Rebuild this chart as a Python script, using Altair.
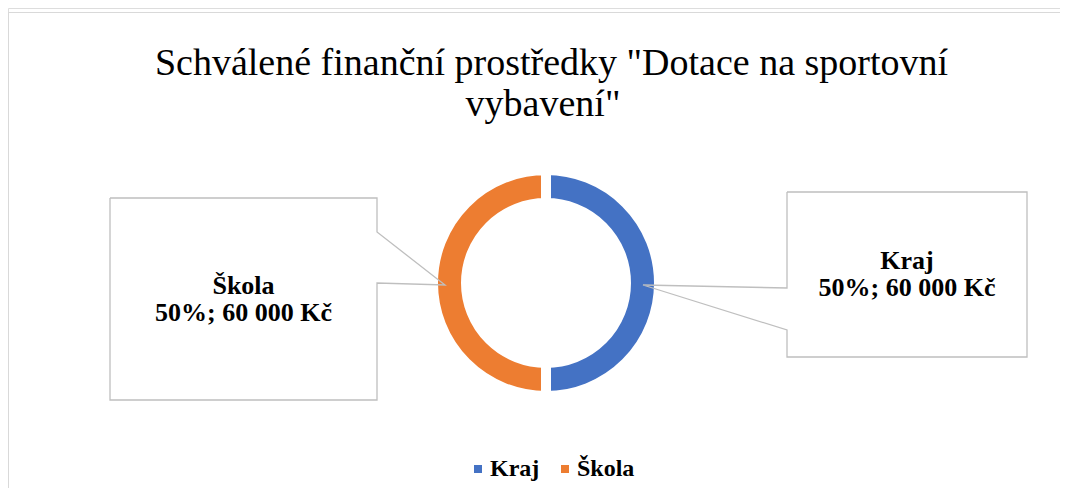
import altair as alt
import pandas as pd

# ---- data ----
categories = ["Kraj", "Škola"]
amounts = [60000, 60000]
shares = [50, 50]
colors = ["#4472C4", "#ED7D31"]

title_lines = ['Schválené finanční prostředky "Dotace na sportovní', 'vybavení"']

# ---- layout (page pixel coordinates) ----
W, H = 1052, 480
OFF = 8
FONT = "Liberation Serif"

def fmt_amount(v):
    return f"{v:,}".replace(",", " ") + " Kč"

df = pd.DataFrame({
    "category": categories,
    "amount": amounts,
    "idx": list(range(len(categories))),
})

xs = alt.Scale(domain=[OFF, OFF + W], range=[0, W], zero=False, nice=False)
ys = alt.Scale(domain=[OFF, OFF + H], range=[0, H], zero=False, nice=False)

CX, CY = 546, 283

donut = alt.Chart(df).mark_arc(
    radius=113, radius2=80, stroke="white", strokeWidth=10
).encode(
    theta=alt.Theta("amount:Q", stack=True),
    order=alt.Order("idx:Q"),
    color=alt.Color(
        "category:N",
        sort=categories,
        scale=alt.Scale(domain=categories, range=colors),
        legend=alt.Legend(
            title=None, orient="none", direction="horizontal",
            legendX=458, legendY=449,
            symbolType="square", symbolSize=64, symbolStrokeWidth=0,
            labelFont=FONT, labelFontSize=24, labelFontWeight="bold",
            labelColor="#000000", columnPadding=13, labelOffset=0,
        ),
    ),
    x=alt.value(CX - OFF),
    y=alt.value(CY - OFF),
)

# callout polygons (annotation geometry)
callouts = {
    "Kraj": [(787, 192), (1027, 192), (1027, 357), (787, 357), (787, 330),
             (643, 285), (787, 288), (787, 192)],
    "Škola": [(110, 198), (377, 198), (377, 232), (445, 285), (377, 283),
              (377, 400), (110, 400), (110, 198)],
}
rows = []
for name, pts in callouts.items():
    for i, (px, py) in enumerate(pts):
        rows.append({"callout": name, "i": i, "px": px, "py": py})
cdf = pd.DataFrame(rows)

call_lines = alt.Chart(cdf).mark_line(color="#BFBFBF", strokeWidth=1.3).encode(
    x=alt.X("px:Q", scale=xs, axis=None),
    y=alt.Y("py:Q", scale=ys, axis=None),
    detail="callout:N",
    order="i:Q",
)

# callout labels
label_pos = {"Kraj": (907, 269, 296), "Škola": (243.5, 294, 321)}
lrows = []
for c, a, s in zip(categories, amounts, shares):
    x0, y1, y2 = label_pos[c]
    lrows.append({"px": x0, "py": y1, "t": c})
    lrows.append({"px": x0, "py": y2, "t": f"{s}%; {fmt_amount(a)}"})
ldf = pd.DataFrame(lrows)
labels = alt.Chart(ldf).mark_text(
    font=FONT, fontSize=26, fontWeight="bold", color="#000000",
    align="center", baseline="alphabetic"
).encode(
    x=alt.X("px:Q", scale=xs, axis=None),
    y=alt.Y("py:Q", scale=ys, axis=None),
    text="t:N",
)

# title
tdf = pd.DataFrame({"px": [551.5, 543], "py": [75, 116], "t": title_lines})
title = alt.Chart(tdf).mark_text(
    font=FONT, fontSize=38, color="#000000", align="center", baseline="alphabetic"
).encode(
    x=alt.X("px:Q", scale=xs, axis=None),
    y=alt.Y("py:Q", scale=ys, axis=None),
    text="t:N",
)

# outer chart border
bdf = pd.DataFrame({"px": [OFF + 0.5, OFF + W + 20, OFF + W + 20, OFF + 0.5, OFF + 0.5],
                    "py": [12.5, 12.5, OFF + H + 20, OFF + H + 20, 12.5],
                    "i": [0, 1, 2, 3, 4]})
border = alt.Chart(bdf).mark_line(color="#D9D9D9", strokeWidth=1, clip=True).encode(
    x=alt.X("px:Q", scale=xs, axis=None),
    y=alt.Y("py:Q", scale=ys, axis=None),
    order="i:Q",
)

chart = alt.layer(border, title, donut, call_lines, labels).properties(
    width=W, height=H, padding=0, autosize=alt.AutoSizeParams(type="none")
).configure_view(stroke=None).configure(background="white")

chart.save("out.html", embed_options={"renderer": "svg", "actions": False})
